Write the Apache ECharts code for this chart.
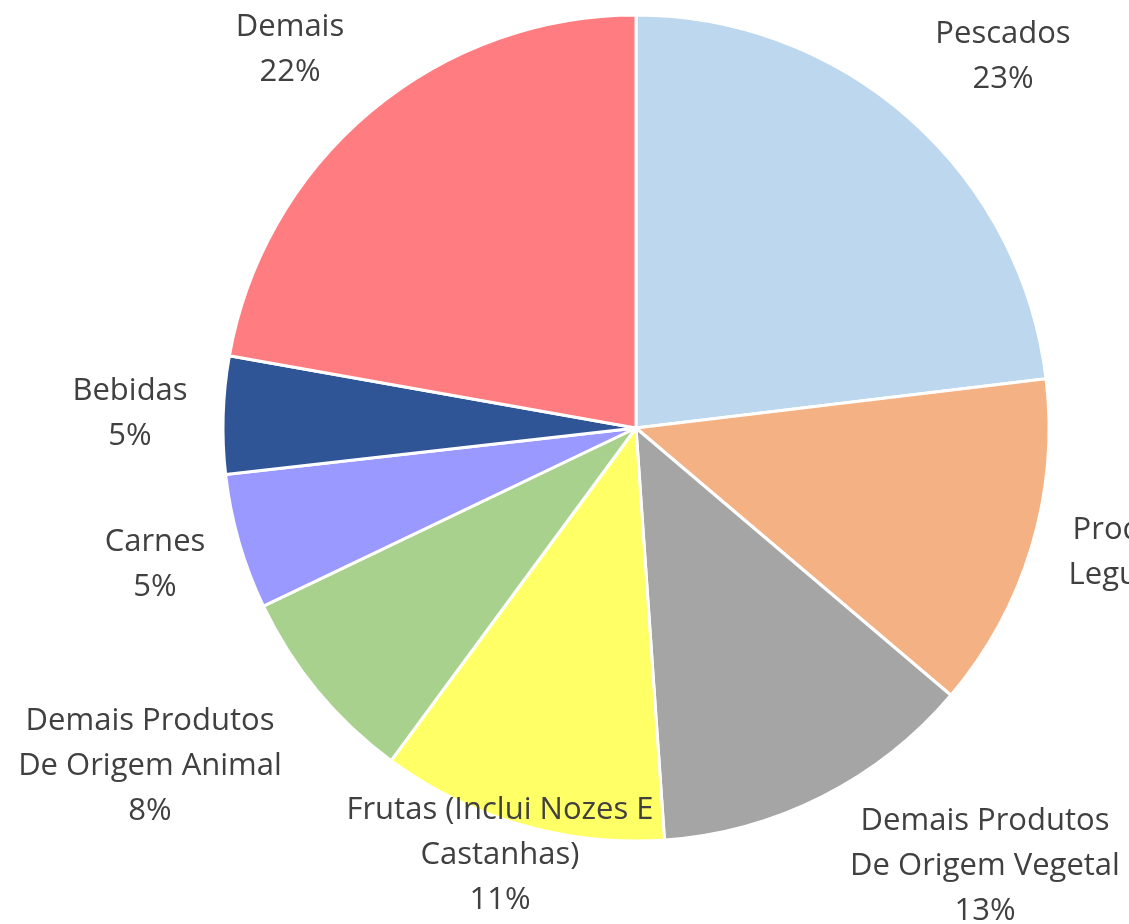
<!DOCTYPE html>
<html>
<head>
<meta charset="utf-8">
<title>Pie</title>
<script src="https://cdn.jsdelivr.net/npm/echarts@6/dist/echarts.min.js"></script>
<style>
  html, body { margin: 0; padding: 0; background: #fff; }
  #chart { width: 1129px; height: 924px; }
</style>
</head>
<body>
<div id="chart"></div>
<script>
// categories and shares (%), clockwise from 12 o'clock
const categories = [
  "Pescados",
  "Produtos Hortícolas\nLegumes E Verduras",
  "Demais Produtos\nDe Origem Vegetal",
  "Frutas (Inclui Nozes E\nCastanhas)",
  "Demais Produtos\nDe Origem Animal",
  "Carnes",
  "Bebidas",
  "Demais"
];
const shares = [23.1, 13.1, 12.7, 11.2, 7.8, 5.3, 4.6, 22.2];
const colors = ["#BDD7EE", "#F4B183", "#A5A5A5", "#FFFF66", "#A9D18E", "#9999FF", "#2F5597", "#FF7C80"];

// where each label block is centred (Excel's own placement)
const labelAnchor = [
  [1003, 57], [1216, 575], [985, 866], [500, 855],
  [150, 766], [155, 565], [130, 414], [290, 50]
];

const chart = echarts.init(document.getElementById("chart"));

chart.setOption({
  animation: false,
  series: [
    {
      type: "pie",
      center: [636, 428],
      radius: 413,
      startAngle: 90,
      clockwise: true,
      avoidLabelOverlap: false,
      data: categories.map((c, i) => ({
        name: c,
        value: shares[i],
        itemStyle: { color: colors[i] }
      })),
      itemStyle: { borderColor: "#fff", borderWidth: 3 },
      label: {
        show: true,
        position: "outside",
        formatter: (p) => p.name + "\n" + Math.round(p.percent) + "%",
        fontFamily: "Open Sans",
        fontSize: 31,
        lineHeight: 45,
        color: "#404040",
        align: "center"
      },
      labelLine: { show: false },
      labelLayout: (p) => ({
        x: labelAnchor[p.dataIndex][0],
        y: labelAnchor[p.dataIndex][1],
        align: "center",
        verticalAlign: "middle"
      })
    }
  ]
});
</script>
</body>
</html>
